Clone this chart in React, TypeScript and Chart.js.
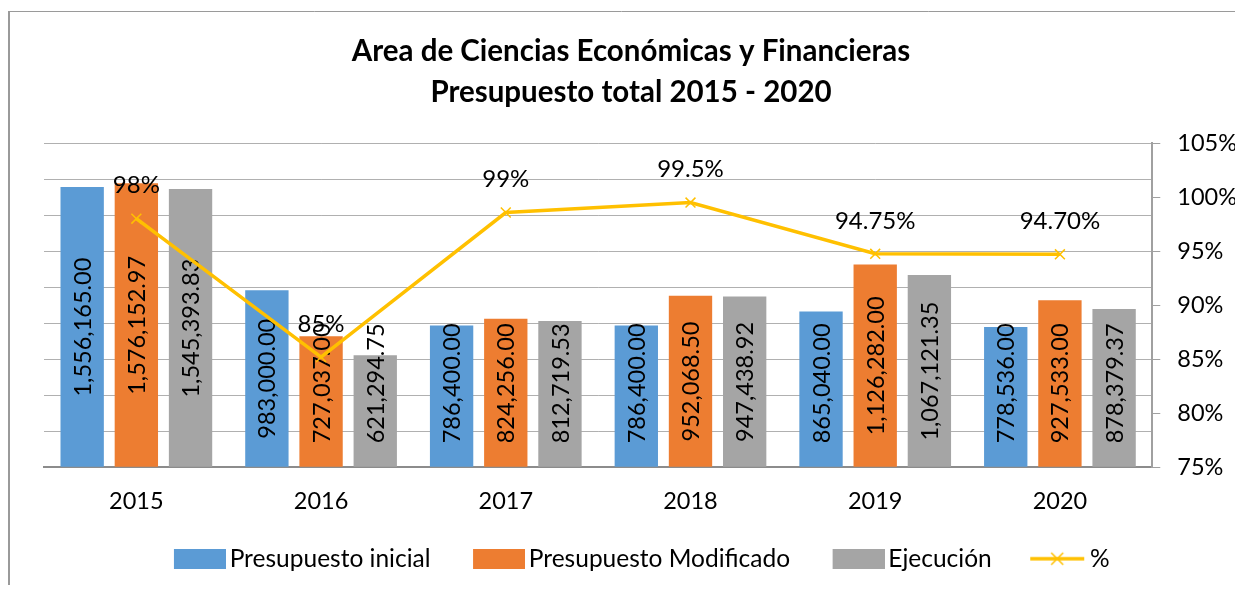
import React, { useEffect, useRef } from "react";
import { Chart, registerables } from "chart.js";

Chart.register(...registerables);

const FONT = "Lato, 'Open Sans', sans-serif";

const titleLines = ["Area de Ciencias Económicas y Financieras", "Presupuesto total 2015 - 2020"];
const categories = ["2015", "2016", "2017", "2018", "2019", "2020"];
const seriesNames = ["Presupuesto inicial", "Presupuesto Modificado", "Ejecución", "%"];
const presupuestoInicial = [1556165.0, 983000.0, 786400.0, 786400.0, 865040.0, 778536.0];
const presupuestoModificado = [1576152.97, 727037.0, 824256.0, 952068.5, 1126282.0, 927533.0];
const ejecucion = [1545393.83, 621294.75, 812719.53, 947438.92, 1067121.35, 878379.37];
const porcentaje = [98.0, 85.2, 98.57, 99.49, 94.75, 94.7];
const porcentajeLabels = ["98%", "85%", "99%", "99.5%", "94.75%", "94.70%"];
const leftMin = 0;
const leftMax = 1800000;
const leftStep = 200000;
const rightMin = 75;
const rightMax = 105;
const rightStep = 5;

const COLORS = ["#5B9BD5", "#ED7D31", "#A5A5A5", "#FFC000"];

const fmt = (v: number) =>
  v.toLocaleString("en-US", { minimumFractionDigits: 2, maximumFractionDigits: 2 });

const borderPlugin = {
  id: "outerBorder",
  beforeDraw(chart: any) {
    const ctx = chart.ctx;
    ctx.save();
    ctx.strokeStyle = "#9a9a9a";
    ctx.lineWidth = 1;
    ctx.beginPath();
    ctx.moveTo(0, 3.5);
    ctx.lineTo(chart.width, 3.5);
    ctx.stroke();
    ctx.lineWidth = 2;
    ctx.beginPath();
    ctx.moveTo(1, 3);
    ctx.lineTo(1, chart.height);
    ctx.stroke();
    ctx.restore();
  },
};

const labelPlugin = {
  id: "valueLabels",
  afterDatasetDraw(chart: any, args: any) {
    const ctx = chart.ctx;
    const di = args.index;
    const meta = chart.getDatasetMeta(di);
    ctx.save();
    ctx.fillStyle = "#000";
    ctx.textAlign = "center";
    ctx.textBaseline = "middle";
    if (meta.type === "bar") {
      ctx.font = `23.5px ${FONT}`;
      const base = chart.scales.y.getPixelForValue(0);
      meta.data.forEach((el: any, i: number) => {
        const text = fmt(chart.data.datasets[di].data[i]);
        const len = ctx.measureText(text).width;
        const { x, y } = el.getProps(["x", "y"], true);
        let cy = (y + base) / 2;
        cy = Math.min(cy, base - 24 - len / 2);
        ctx.save();
        ctx.translate(x, cy);
        ctx.rotate(-Math.PI / 2);
        ctx.fillText(text, 0, 1);
        ctx.restore();
      });
    } else {
      ctx.font = `24px ${FONT}`;
      meta.data.forEach((pt: any, i: number) => {
        const { x, y } = pt.getProps(["x", "y"], true);
        ctx.fillText(porcentajeLabels[i], x, y - 33);
      });
    }
    ctx.restore();
  },
};

// legend marker images; the visible marker sits just before the text
const BOX_W = 65;
const ICON_W = 82;
const MARK_X = 30;

function makeRectIcon(color: string): HTMLCanvasElement {
  const c = document.createElement("canvas");
  c.width = ICON_W;
  c.height = 20;
  const g = c.getContext("2d")!;
  g.fillStyle = color;
  g.fillRect(MARK_X, 0, 52, 20);
  return c;
}

function makeLineIcon(color: string): HTMLCanvasElement {
  const c = document.createElement("canvas");
  c.width = ICON_W;
  c.height = 20;
  const g = c.getContext("2d")!;
  const x0 = MARK_X - 4;
  const cx = x0 + 27;
  g.strokeStyle = color;
  g.lineWidth = 3.5;
  g.beginPath();
  g.moveTo(x0, 10);
  g.lineTo(x0 + 54, 10);
  g.stroke();
  g.lineWidth = 1.5;
  g.beginPath();
  g.moveTo(cx - 6, 4);
  g.lineTo(cx + 6, 16);
  g.moveTo(cx + 6, 4);
  g.lineTo(cx - 6, 16);
  g.stroke();
  return c;
}

export default function App() {
  const ref = useRef<HTMLCanvasElement | null>(null);

  useEffect(() => {
    if (!ref.current) return;
    const icons = [
      makeRectIcon(COLORS[0]),
      makeRectIcon(COLORS[1]),
      makeRectIcon(COLORS[2]),
      makeLineIcon(COLORS[3]),
    ];
    const tickFont = { family: FONT, size: 23.5 };
    const barCommon = {
      borderWidth: 0,
      yAxisID: "y",
      order: 1,
      categoryPercentage: 0.88,
      barPercentage: 0.8,
    };
    const chart = new Chart(ref.current, {
      type: "bar",
      data: {
        labels: categories,
        datasets: [
          { label: seriesNames[0], data: presupuestoInicial, backgroundColor: COLORS[0], ...barCommon },
          { label: seriesNames[1], data: presupuestoModificado, backgroundColor: COLORS[1], ...barCommon },
          { label: seriesNames[2], data: ejecucion, backgroundColor: COLORS[2], ...barCommon },
          {
            type: "line",
            label: seriesNames[3],
            data: porcentaje,
            yAxisID: "y1",
            order: 0,
            borderColor: COLORS[3],
            backgroundColor: COLORS[3],
            borderWidth: 3.5,
            tension: 0,
            pointStyle: "crossRot",
            pointRadius: 7,
            pointBorderWidth: 1.5,
            pointBorderColor: COLORS[3],
          } as any,
        ],
      },
      options: {
        responsive: true,
        maintainAspectRatio: false,
        animation: false,
        layout: { padding: { left: 0, right: -19, top: 0, bottom: 4 } },
        plugins: {
          title: {
            display: true,
            text: titleLines,
            color: "#000",
            font: { family: FONT, size: 29.5, weight: "bold", lineHeight: 1.39 },
            padding: { top: 23, bottom: 30 },
          },
          legend: {
            position: "bottom",
            labels: {
              font: { family: FONT, size: 24.5 },
              color: "#000",
              usePointStyle: true,
              pointStyleWidth: BOX_W,
              boxWidth: BOX_W,
              boxHeight: 20,
              padding: 21,
              generateLabels: (ch: any) => {
                const items = (Chart.defaults.plugins.legend.labels as any).generateLabels(ch);
                items.sort((a: any, b: any) => a.datasetIndex - b.datasetIndex);
                items.forEach((it: any) => {
                  it.pointStyle = icons[it.datasetIndex];
                  it.lineWidth = 0;
                });
                return items;
              },
            },
          },
          tooltip: { enabled: false },
        },
        scales: {
          x: {
            grid: { display: false, drawTicks: false },
            border: { display: true, color: "#8c8c8c", width: 2 },
            ticks: { font: tickFont, color: "#000", padding: 20 },
            afterFit: (s: any) => {
              s.height = s.height - 10;
            },
          },
          y: {
            position: "left",
            min: leftMin,
            max: leftMax,
            ticks: { display: false, stepSize: leftStep },
            grid: { color: "#b0b0b0", drawTicks: false },
            border: { display: false },
            afterFit: (s: any) => {
              s.width = 36;
            },
          },
          y1: {
            position: "right",
            min: rightMin,
            max: rightMax,
            ticks: {
              stepSize: rightStep,
              font: tickFont,
              color: "#000",
              padding: 17,
              callback: (v: any) => `${v}%`,
            },
            grid: { drawOnChartArea: false, drawTicks: true, tickLength: 8, color: "#a0a0a0" },
            border: { display: true, color: "#a0a0a0", width: 2 },
          },
        },
      } as any,
      plugins: [borderPlugin, labelPlugin],
    });
    return () => chart.destroy();
  }, []);

  return (
    <div style={{ position: "relative", width: 1227, height: 577 }}>
      <canvas ref={ref} />
    </div>
  );
}
